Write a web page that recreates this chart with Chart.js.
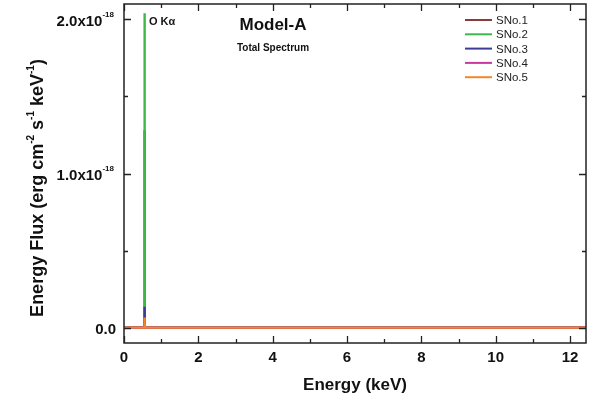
<!DOCTYPE html>
<html>
<head>
<meta charset="utf-8">
<script src="https://cdn.jsdelivr.net/npm/chart.js@4/dist/chart.umd.min.js"></script>
<style>
  html, body { margin: 0; padding: 0; background: #fff; }
  #chart { display: block; }
</style>
</head>
<body>
<canvas id="chart" width="589" height="400"></canvas>
<script>
// energy grid (keV) and flux per series, in units of 1e-18 erg cm^-2 s^-1 keV^-1
const energy = [0, 0.5, 0.54, 0.55, 0.56, 0.6, 1, 2, 4, 6, 8, 10, 12, 12.43];
const sno1 = [0, 0, 0, 1.28, 0, 0, 0, 0, 0, 0, 0, 0, 0, 0];
const sno2 = [0, 0, 0, 2.04, 0, 0, 0, 0, 0, 0, 0, 0, 0, 0];
const sno3 = [0, 0, 0, 0.135, 0, 0, 0, 0, 0, 0, 0, 0, 0, 0];
const sno4 = [0, 0, 0, 0.03, 0, 0, 0, 0, 0, 0, 0, 0, 0, 0];
const sno5 = [0, 0, 0, 0.065, 0, 0, 0, 0, 0, 0, 0, 0, 0, 0];

const seriesNames = ['SNo.1', 'SNo.2', 'SNo.3', 'SNo.4', 'SNo.5'];
const seriesColors = ['#8b3a3a', '#3fb84a', '#3c3c98', '#c83a9c', '#f5862c'];

const xMajorTicks = [0, 2, 4, 6, 8, 10, 12];
const xMinorTicks = [1, 3, 5, 7, 9, 11];
const yMajorTicks = [0, 1, 2];
const yMinorTicks = [0.5, 1.5];
const yTickLabels = ['0.0', '1.0x10', '2.0x10'];
const yTickExp = ['', '-18', '-18'];

const FONT = '"Liberation Sans", Arial, sans-serif';

function pts(vals) {
    return energy.map((e, i) => ({ x: e, y: vals[i] }));
}

const allSeries = [sno1, sno2, sno3, sno4, sno5];
const datasets = allSeries.map((vals, i) => ({
    label: seriesNames[i],
    data: pts(vals),
    borderColor: seriesColors[i],
    backgroundColor: seriesColors[i],
    borderWidth: 2.4,
    pointRadius: 0,
    tension: 0,
    order: 5 - i // SNo.5 drawn on top
}));

// frame, inward ticks, labels and legend
const decorPlugin = {
    id: 'decor',
    afterDraw(chart) {
        const ctx = chart.ctx;
        const a = chart.chartArea;
        const xs = chart.scales.x, ys = chart.scales.y;
        ctx.save();
        ctx.strokeStyle = '#222';
        ctx.lineWidth = 1.5;
        ctx.strokeRect(a.left, a.top, a.right - a.left, a.bottom - a.top);

        ctx.lineWidth = 1.3;
        function tickX(v, len) {
            const px = Math.round(xs.getPixelForValue(v)) + 0.5;
            ctx.beginPath();
            ctx.moveTo(px, a.bottom); ctx.lineTo(px, a.bottom - len);
            ctx.moveTo(px, a.top); ctx.lineTo(px, a.top + len);
            ctx.stroke();
        }
        function tickY(v, len) {
            const py = Math.round(ys.getPixelForValue(v)) + 0.5;
            ctx.beginPath();
            ctx.moveTo(a.left, py); ctx.lineTo(a.left + len, py);
            ctx.moveTo(a.right, py); ctx.lineTo(a.right - len, py);
            ctx.stroke();
        }
        xMajorTicks.forEach(v => tickX(v, 7));
        xMinorTicks.forEach(v => tickX(v, 4));
        yMajorTicks.forEach(v => tickY(v, 7));
        yMinorTicks.forEach(v => tickY(v, 4));

        ctx.fillStyle = '#111';
        ctx.font = 'bold 15px ' + FONT;
        ctx.textAlign = 'center';
        ctx.textBaseline = 'middle';
        xMajorTicks.forEach(v => {
            ctx.fillText(String(v), xs.getPixelForValue(v), 358);
        });

        // y tick labels with superscript exponent
        yMajorTicks.forEach((v, i) => {
            const py = ys.getPixelForValue(v);
            ctx.font = 'bold 8px ' + FONT;
            const ew = yTickExp[i] ? ctx.measureText(yTickExp[i]).width : 0;
            ctx.textAlign = 'right';
            ctx.textBaseline = 'middle';
            if (yTickExp[i]) ctx.fillText(yTickExp[i], 114, py - 5);
            ctx.font = 'bold 15px ' + FONT;
            ctx.fillText(yTickLabels[i], (yTickExp[i] ? 114 : 116) - ew, py + 2);
        });

        // x axis title
        ctx.font = 'bold 17px ' + FONT;
        ctx.textAlign = 'center';
        ctx.textBaseline = 'middle';
        ctx.fillText('Energy (keV)', 355, 385);

        // y axis title with superscripts, rotated
        const parts = [
            ['Energy Flux (erg cm', false], ['-2', true], [' s', false], ['-1', true],
            [' keV', false], ['-1', true], [')', false]
        ];
        const big = 'bold 18px ' + FONT, small = 'bold 10px ' + FONT;
        let total = 0;
        parts.forEach(p => { ctx.font = p[1] ? small : big; total += ctx.measureText(p[0]).width; });
        ctx.translate(37, 188);
        ctx.rotate(-Math.PI / 2);
        ctx.textAlign = 'left';
        let cx = -total / 2;
        parts.forEach(p => {
            ctx.font = p[1] ? small : big;
            ctx.fillText(p[0], cx, p[1] ? -6 : 1);
            cx += ctx.measureText(p[0]).width;
        });
        ctx.setTransform(1, 0, 0, 1, 0, 0);

        // annotations
        ctx.textAlign = 'center';
        ctx.font = 'bold 17px ' + FONT;
        ctx.fillText('Model-A', 273, 25);
        ctx.font = 'bold 10px ' + FONT;
        ctx.fillText('Total Spectrum', 273, 48);
        ctx.textAlign = 'left';
        ctx.font = 'bold 11px ' + FONT;
        ctx.fillText('O K\u03B1', 149, 22);

        // legend
        ctx.font = '11.5px ' + FONT;
        seriesNames.forEach((n, i) => {
            const ly = 20 + i * 14.3;
            ctx.strokeStyle = seriesColors[i];
            ctx.lineWidth = 2;
            ctx.beginPath();
            ctx.moveTo(465, ly); ctx.lineTo(492, ly);
            ctx.stroke();
            ctx.fillStyle = '#222';
            ctx.fillText(n, 496, ly + 1);
        });
        ctx.restore();
    }
};

new Chart(document.getElementById('chart'), {
    type: 'line',
    data: { datasets: datasets },
    options: {
        responsive: false,
        animation: false,
        devicePixelRatio: 1,
        layout: { padding: { left: 0, top: 4, right: 3, bottom: 0 } },
        plugins: { legend: { display: false }, tooltip: { enabled: false } },
        scales: {
            x: {
                type: 'linear', min: 0, max: 12.43,
                ticks: { display: false },
                grid: { display: false },
                border: { display: false },
                afterFit(s) { s.height = 57; }
            },
            y: {
                type: 'linear', min: -0.1, max: 2.1,
                ticks: { display: false },
                grid: { display: false },
                border: { display: false },
                afterFit(s) { s.width = 124; }
            }
        }
    },
    plugins: [decorPlugin]
});
</script>
</body>
</html>
